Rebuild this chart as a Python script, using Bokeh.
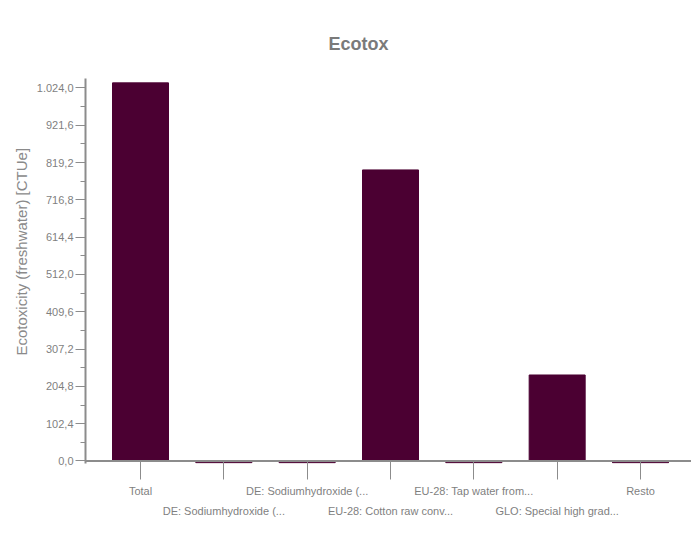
from bokeh.plotting import figure
from bokeh.models import Range1d, FixedTicker, LinearAxis, Span, Title
from bokeh.embed import file_html
from bokeh.resources import INLINE

categories = ["Total", "DE: Sodiumhydroxide (...", "DE: Sodiumhydroxide (...",
              "EU-28: Cotton raw conv...", "EU-28: Tap water from...",
              "GLO: Special high grad...", "Resto"]
values = [1038.0, -5.0, -5.0, 799.0, -5.0, 236.0, -5.0]
y_ticks = [0.0, 102.4, 204.8, 307.2, 409.6, 512.0, 614.4, 716.8, 819.2, 921.6, 1024.0]
y_tick_labels = ["0,0", "102,4", "204,8", "307,2", "409,6", "512,0", "614,4",
                 "716,8", "819,2", "921,6", "1.024,0"]
y_minor = [51.2, 153.6, 256.0, 358.4, 460.8, 563.2, 665.6, 768.0, 870.4, 972.8]
y_title = "Ecotoxicity (freshwater) [CTUe]"
chart_title = "Ecotox"

FONT = "Liberation Sans"
GREY = "#8c8c8c"
TXT = "#7f7f7f"
BAR = "#4b0032"

xs = list(range(len(categories)))

p = figure(width=691, height=534, output_backend="svg", toolbar_location=None,
           x_range=Range1d(-0.66, 6.612), y_range=Range1d(-7, 1050),
           min_border_left=85, min_border_right=0, min_border_top=78,
           min_border_bottom=71, x_axis_location=None, y_axis_location="left")
p.outline_line_color = None
p.grid.visible = False
p.background_fill_color = "white"

p.vbar(x=xs, top=values, width=0.672, color=BAR)
p.add_layout(Span(location=0, dimension="width", line_color=GREY, line_width=2))

# title
p.title.text = chart_title
p.title.text_font = FONT
p.title.text_font_size = "18px"
p.title.text_font_style = "bold"
p.title.text_color = "#7a7a7a"
p.title.align = "left"
p.title.offset = 243
p.title.standoff = 49

# y axis
ya = p.yaxis[0]
ya.ticker = FixedTicker(ticks=y_ticks, minor_ticks=y_minor)
ya.major_label_overrides = dict(zip(y_ticks, y_tick_labels))
ya.axis_line_color = GREY
ya.axis_line_width = 2
ya.major_tick_line_color = GREY
ya.minor_tick_line_color = GREY
ya.major_tick_out = 10
ya.major_tick_in = 0
ya.minor_tick_out = 5
ya.minor_tick_in = 0
ya.major_label_standoff = 2
ya.major_label_text_font = FONT
ya.major_label_text_font_size = "11px"
ya.major_label_text_color = TXT

# y axis title, placed as a side title so it can sit off-centre like the original
p.add_layout(Title(text=y_title, align="left", offset=108, standoff=7,
                   text_font=FONT, text_font_size="15px",
                   text_font_style="normal", text_color="#8a8a8a"), "left")

# x axes: two rows of labels
top_labels = {i: (c if i % 2 == 0 else "") for i, c in enumerate(categories)}
bot_labels = {i: (c if i % 2 == 1 else "") for i, c in enumerate(categories)}

xa = LinearAxis(ticker=FixedTicker(ticks=xs), major_label_overrides=top_labels)
xa.axis_line_color = None
xa.major_tick_line_color = GREY
xa.major_tick_out = 16
xa.major_tick_in = 3
xa.minor_tick_line_color = None
xa.major_label_standoff = 5
xa.major_label_text_font = FONT
xa.major_label_text_font_size = "11px"
xa.major_label_text_color = TXT
p.add_layout(xa, "below")

xb = LinearAxis(ticker=FixedTicker(ticks=xs), major_label_overrides=bot_labels)
xb.axis_line_color = None
xb.major_tick_line_color = None
xb.minor_tick_line_color = None
xb.major_tick_out = 0
xb.major_tick_in = 0
xb.major_label_standoff = 5
xb.major_label_text_font = FONT
xb.major_label_text_font_size = "11px"
xb.major_label_text_color = TXT
p.add_layout(xb, "below")

open("out.html", "w").write(file_html(p, INLINE))
